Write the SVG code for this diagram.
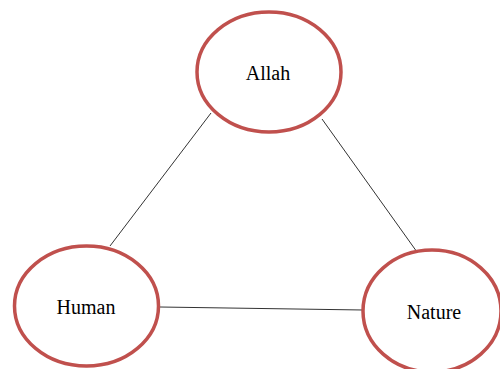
<svg xmlns="http://www.w3.org/2000/svg" width="500" height="369" viewBox="0 0 500 369">
<style>
.n{fill:#fff;stroke:#c0504d;stroke-width:3.5}
.t{font-family:"Liberation Serif",serif;font-size:20px;fill:#000;text-anchor:middle}
.c line{stroke:#333;stroke-width:1}
</style>
<rect width="500" height="369" fill="#fff"/>
<g class="c" id="connectors">
<line x1="211" y1="113" x2="110" y2="246"/>
<line x1="322" y1="119" x2="417" y2="252"/>
<line x1="160" y1="307" x2="363" y2="310"/>
</g>
<g id="allah"><ellipse class="n" cx="269" cy="72" rx="72" ry="60"/><text class="t" x="268" y="80">Allah</text></g>
<g id="human"><ellipse class="n" cx="86.5" cy="306" rx="72" ry="60"/><text class="t" x="86" y="314">Human</text></g>
<g id="nature"><ellipse class="n" cx="432" cy="311" rx="69" ry="61"/><text class="t" x="434" y="319">Nature</text></g>
</svg>
